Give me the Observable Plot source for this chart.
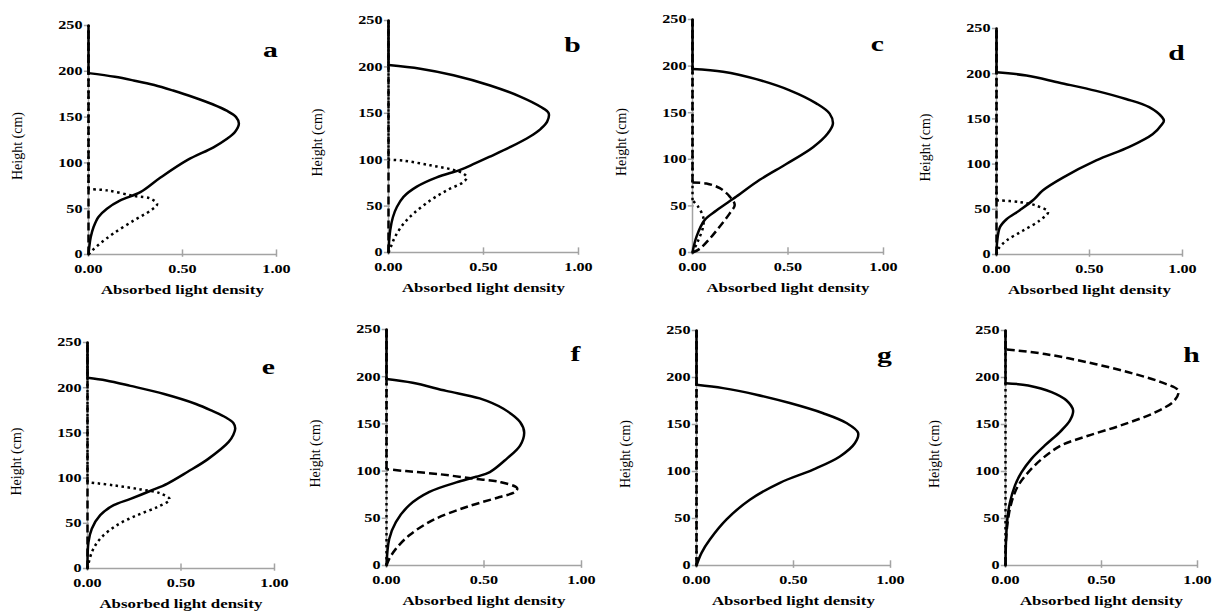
<!DOCTYPE html>
<html>
<head>
<meta charset="utf-8">
<script src="https://cdn.jsdelivr.net/npm/d3@7"></script>
<script src="https://cdn.jsdelivr.net/npm/@observablehq/plot@0.6"></script>
<style>
  html, body { margin: 0; padding: 0; background: #fff; }
  #wrap { position: relative; width: 1213px; height: 612px; overflow: hidden; }
  #wrap > div { position: absolute; }
</style>
</head>
<body>
<div id="wrap"></div>
<script>
// ---- data: [height (cm), absorbed light density] ----
const xTicks = [0, 0.5, 1];
const yTicks = [0, 50, 100, 150, 200, 250];
const panelLetters = ["a", "b", "c", "d", "e", "f", "g", "h"];
const xLabel = "Absorbed light density";
const yLabel = "Height (cm)";

const aSolid = [[0,0],[8,0.004],[19,0.012],[30,0.027],[41,0.053],[50,0.098],[59,0.169],[68,0.276],[84,0.383],[103,0.525],[117,0.665],[126,0.735],[134,0.78],[143,0.8],[150,0.785],[157,0.735],[164,0.66],[172,0.555],[179,0.45],[185,0.35],[190,0.24],[194,0.14],[198,0],[250,0]];
const aDashed = [[0,0],[250,0]];
const aDotted = [[0,0],[4,0.018],[12,0.062],[23,0.133],[37,0.24],[48,0.33],[55,0.365],[61,0.33],[64,0.24],[70,0.098],[71.5,0],[250,0]];

const bSolid = [[0,0],[13,0.0035],[24,0.009],[38,0.023],[49,0.044],[60,0.079],[71,0.149],[81,0.254],[89,0.377],[96,0.455],[103,0.53],[114,0.645],[125,0.745],[133,0.8],[141,0.835],[150,0.843],[157,0.8],[168,0.693],[180,0.535],[191,0.342],[198,0.167],[202,0],[250,0]];
const bDashed = [[0,0],[250,0]];
const bDotted = [[0,0],[6,0.012],[17,0.035],[31,0.079],[42,0.132],[56,0.219],[67,0.307],[76,0.395],[81,0.412],[85,0.395],[89,0.342],[94,0.219],[99,0.079],[100,0],[250,0]];

const cSolid = [[0,0],[17,0.021],[35,0.064],[45,0.125],[60,0.23],[78,0.352],[95,0.491],[113,0.631],[128,0.709],[138,0.735],[149,0.718],[160,0.648],[174,0.509],[186,0.334],[194,0.16],[197,0],[250,0]];
const cDashed = [[0,0],[4,0.038],[15,0.091],[28,0.143],[42,0.195],[51,0.221],[60,0.195],[69,0.143],[74,0.073],[75,0],[250,0]];
const cDotted = [[0,0],[3,0.007],[13,0.03],[28,0.056],[38,0.056],[49,0.03],[56,0],[250,0]];

const dSolid = [[0,0],[15,0.004],[30,0.018],[39,0.054],[49,0.125],[60,0.196],[71,0.25],[85,0.357],[104,0.536],[119,0.714],[133,0.839],[144,0.89],[148,0.9],[152,0.89],[163,0.821],[172,0.696],[181,0.536],[190,0.339],[198,0.161],[201.5,0],[250,0]];
const dDashed = [[0,0],[250,0]];
const dDotted = [[0,0],[6,0.009],[15.5,0.054],[26.5,0.143],[37.6,0.232],[47,0.277],[54,0.214],[58,0.125],[60,0],[250,0]];

const eSolid = [[0,0],[29,0.005],[44,0.023],[59,0.068],[70,0.14],[77,0.23],[86,0.338],[94,0.428],[107,0.536],[121,0.644],[140,0.755],[148,0.78],[155,0.79],[161,0.78],[167,0.74],[174,0.67],[182,0.58],[193,0.41],[202,0.23],[208,0.1],[211,0],[250,0]];
const eDashed = [[0,0],[250,0]];
const eDotted = [[0,0],[18,0.023],[33,0.068],[48,0.158],[59,0.266],[68,0.374],[76.5,0.44],[83,0.39],[87.5,0.284],[92,0.14],[95.5,0],[250,0]];

const fSolid = [[0,0],[28,0.014],[46,0.048],[64,0.117],[78,0.22],[88,0.358],[94,0.46],[99,0.53],[113,0.616],[127,0.685],[141,0.706],[152,0.685],[166,0.6],[177,0.478],[185,0.306],[193.5,0.134],[197.5,0],[250,0]];
const fDashed = [[0,0],[7,0.014],[17.6,0.048],[32,0.117],[48,0.237],[62,0.41],[72.5,0.58],[78,0.66],[82,0.67],[88.5,0.58],[92,0.444],[96.7,0.272],[100,0.1],[102,0],[250,0]];
const fDotted = [[0,0],[250,0]];

const gSolid = [[0,0],[13.5,0.026],[27.6,0.069],[49,0.155],[70,0.275],[88,0.43],[102,0.601],[116,0.739],[130,0.816],[141,0.833],[151.6,0.773],[162,0.653],[172.8,0.481],[181.7,0.309],[188.7,0.137],[192.3,0],[250,0]];
const gDashed = [[0,0],[250,0]];
const gDotted = [[0,0],[250,0]];

const hSolid = [[0,0],[28,0.003],[50,0.01],[67,0.023],[85,0.049],[99,0.083],[113.5,0.135],[127.7,0.205],[142,0.283],[154,0.335],[165,0.352],[175.5,0.318],[184.4,0.24],[191.5,0.118],[194,0],[250,0]];
const hDashed = [[0,0],[28,0.003],[50,0.014],[67,0.031],[85,0.066],[99,0.118],[113.5,0.19],[127.7,0.29],[138,0.43],[149,0.6],[163,0.78],[175.5,0.88],[186,0.9],[195,0.81],[205.6,0.64],[216,0.43],[225,0.205],[230,0],[250,0]];
const hDotted = [[0,0],[250,0]];

const series = {
  a: [aSolid, aDashed, aDotted], b: [bSolid, bDashed, bDotted],
  c: [cSolid, cDashed, cDotted], d: [dSolid, dDashed, dDotted],
  e: [eSolid, eDashed, eDotted], f: [fSolid, fDashed, fDotted],
  g: [gSolid, gDashed, gDotted], h: [hSolid, hDashed, hDotted]
};

// ---- layout (pixels) ----
const layout = [
  {left: 0,   top: 0,   width: 303, height: 306, ml: 88, mt: 25, mb: 52, mr: 27},
  {left: 303, top: 0,   width: 303, height: 306, ml: 85, mt: 20, mb: 54, mr: 28},
  {left: 606, top: 0,   width: 303, height: 306, ml: 86, mt: 19, mb: 54, mr: 26},
  {left: 909, top: 0,   width: 304, height: 306, ml: 87, mt: 28, mb: 52, mr: 31},
  {left: 0,   top: 306, width: 303, height: 306, ml: 87, mt: 36, mb: 44, mr: 29},
  {left: 303, top: 306, width: 303, height: 306, ml: 83, mt: 23, mb: 47, mr: 25},
  {left: 606, top: 306, width: 303, height: 306, ml: 90, mt: 24, mb: 47, mr: 19},
  {left: 909, top: 306, width: 304, height: 306, ml: 96, mt: 24, mb: 47, mr: 16}
];

const FONT = "'Liberation Serif', 'Times New Roman', Times, serif";
const AXIS_GRAY = "#a3a3a3";
const SX = 1.35; // horizontal stretch of the reference text

// split a profile into its curved part and the straight zero tail above it
function splitProfile(pts) {
  let k = pts.length - 1;
  while (k > 0 && pts[k - 1][1] === 0) k--;
  return [pts.slice(0, k + 1), pts.slice(k)];
}

const wrap = document.getElementById("wrap");

panelLetters.forEach((letter, i) => {
  const L = layout[i];
  const [solid, dashed, dotted] = series[letter];
  const X = d => d[1], Y = d => d[0];
  const lineMarks = (pts, style) => {
    const [curved, tail] = splitProfile(pts);
    return [
      Plot.line(tail, {x: X, y: Y, ...style}),
      curved.length > 1 ? Plot.line(curved, {x: X, y: Y, curve: "catmull-rom", ...style}) : null
    ];
  };
  const dotStyle = {stroke: "black", strokeWidth: 2.5, strokeDasharray: "2.5,3.5", strokeLinecap: "butt"};
  const dashStyle = {stroke: "black", strokeWidth: 2.5, strokeDasharray: "8,4", strokeLinecap: "butt"};
  const solidStyle = {stroke: "black", strokeWidth: 2.5};
  const svg = Plot.plot({
    width: L.width, height: L.height,
    marginLeft: L.ml, marginRight: L.mr, marginTop: L.mt, marginBottom: L.mb,
    style: {fontFamily: FONT, fontSize: "12px", fontWeight: "bold", background: "white", color: "black", overflow: "visible"},
    x: {domain: [0, 1]},
    y: {domain: [0, 250]},
    marks: [
      Plot.ruleY([0], {stroke: AXIS_GRAY, strokeWidth: 1.5}),
      Plot.ruleX([0], {stroke: AXIS_GRAY, strokeWidth: 1.5}),
      Plot.ruleX(xTicks, {y1: -3, y2: 5, stroke: AXIS_GRAY, strokeWidth: 1.5}),
      Plot.ruleY(yTicks, {x1: -0.022, x2: 0.01, stroke: AXIS_GRAY, strokeWidth: 1.5}),
      Plot.axisX({ticks: xTicks, tickFormat: d3.format(".2f"), tickSize: 0, tickPadding: 10, label: null}),
      Plot.axisY({ticks: yTicks, tickFormat: d3.format("d"), tickSize: 0, tickPadding: 6, label: null}),
      ...lineMarks(dotted, dotStyle),
      ...lineMarks(dashed, dashStyle),
      ...lineMarks(solid, solidStyle),
      Plot.text([xLabel], {text: d => d, frameAnchor: "bottom", dy: 39, fontSize: 12.5, fontWeight: "bold", textAnchor: "middle"}),
      Plot.text([yLabel], {text: d => d, frameAnchor: "left", dx: -71, dy: 6, rotate: -90, fontSize: 14, fontWeight: "normal", textAnchor: "middle"}),
      Plot.text([letter], {text: d => d, frameAnchor: "top-right", dx: -6, dy: 16, fontSize: 22, fontWeight: "bold", textAnchor: "middle"})
    ]
  });
  const div = document.createElement("div");
  div.style.left = L.left + "px";
  div.style.top = L.top + "px";
  div.style.width = L.width + "px";
  div.style.height = L.height + "px";
  div.appendChild(svg);
  wrap.appendChild(div);

  // stretch non-rotated text horizontally about its anchor point (keeps existing positioning)
  svg.querySelectorAll("text").forEach(t => {
    const tr = t.getAttribute("transform") || "";
    if (tr.includes("rotate")) return;
    const bb = t.getBBox();
    const anchor = getComputedStyle(t).textAnchor;
    const ax = anchor === "end" ? bb.x + bb.width : anchor === "middle" ? bb.x + bb.width / 2 : bb.x;
    t.setAttribute("transform", `${tr} translate(${ax},0) scale(${SX},1) translate(${-ax},0)`.trim());
  });
});
</script>
</body>
</html>
